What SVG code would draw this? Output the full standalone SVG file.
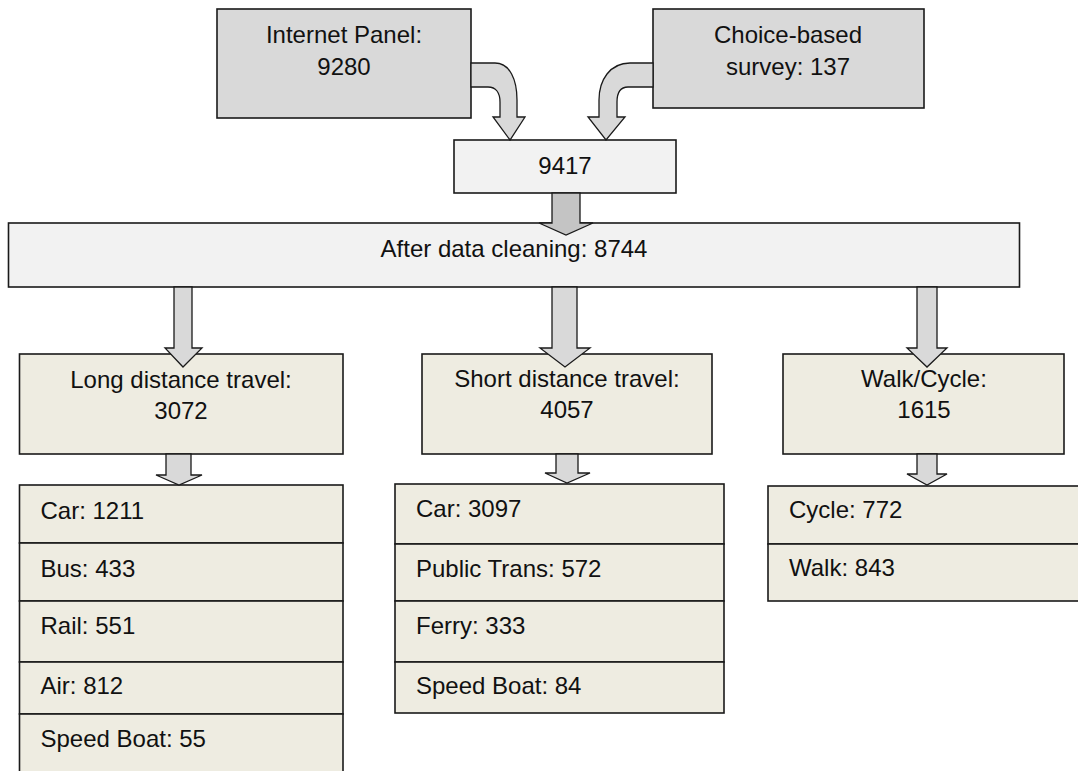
<svg xmlns="http://www.w3.org/2000/svg" width="1078" height="771" viewBox="0 0 1078 771">
<style>
text{font-family:"Liberation Sans",Arial,sans-serif;font-size:24px;fill:#111}
.c{text-anchor:middle}
.src{fill:#d9d9d9;stroke:#1a1a1a;stroke-width:1.6}
.mid{fill:#f2f2f2;stroke:#1a1a1a;stroke-width:1.6}
.lvl{fill:#eeece1;stroke:#1a1a1a;stroke-width:1.6}
.arr{fill:#d9d9d9;stroke:#1a1a1a;stroke-width:1.3;stroke-linejoin:miter}
.arr2{fill:#c4c4c4;stroke:#1a1a1a;stroke-width:1.3}
</style>
<rect width="1078" height="771" fill="#ffffff"/>
<g id="internet-panel"><rect class="src" x="217" y="9" width="254" height="109"/><text class="c" x="344" y="43">Internet Panel:</text><text class="c" x="344" y="75">9280</text></g>
<g id="choice-based"><rect class="src" x="653" y="9" width="271" height="99"/><text class="c" x="788" y="43">Choice-based</text><text class="c" x="788" y="75">survey: 137</text></g>
<g id="total"><rect class="mid" x="454" y="140" width="222" height="53"/><text class="c" x="565" y="174">9417</text></g>
<g id="cleaned"><rect class="mid" x="8.5" y="223" width="1011" height="64"/><text class="c" x="514" y="257">After data cleaning: 8744</text></g>
<g id="long"><rect class="lvl" x="19.5" y="354" width="323.5" height="100"/><text class="c" x="181" y="388">Long distance travel:</text><text class="c" x="181" y="419">3072</text></g>
<g id="short"><rect class="lvl" x="422" y="354" width="290" height="100"/><text class="c" x="567" y="387">Short distance travel:</text><text class="c" x="567" y="418">4057</text></g>
<g id="walkcycle"><rect class="lvl" x="783" y="354" width="281" height="100"/><text class="c" x="924" y="387">Walk/Cycle:</text><text class="c" x="924" y="418">1615</text></g>
<g id="long-list">
<rect class="lvl" x="19.5" y="485" width="323.5" height="58"/><text x="40.5" y="519">Car: 1211</text>
<rect class="lvl" x="19.5" y="543" width="323.5" height="58"/><text x="40.5" y="577">Bus: 433</text>
<rect class="lvl" x="19.5" y="601" width="323.5" height="61"/><text x="40.5" y="634">Rail: 551</text>
<rect class="lvl" x="19.5" y="662" width="323.5" height="52"/><text x="40.5" y="694">Air: 812</text>
<rect class="lvl" x="19.5" y="714" width="323.5" height="62"/><text x="40.5" y="747">Speed Boat: 55</text>
</g>
<g id="short-list">
<rect class="lvl" x="395" y="484" width="329" height="60"/><text x="416" y="517">Car: 3097</text>
<rect class="lvl" x="395" y="544" width="329" height="57"/><text x="416" y="577">Public Trans: 572</text>
<rect class="lvl" x="395" y="601" width="329" height="61"/><text x="416" y="634">Ferry: 333</text>
<rect class="lvl" x="395" y="662" width="329" height="51"/><text x="416" y="694">Speed Boat: 84</text>
</g>
<g id="walk-list">
<rect class="lvl" x="768" y="486" width="314" height="58"/><text x="789" y="518">Cycle: 772</text>
<rect class="lvl" x="768" y="544" width="314" height="57"/><text x="789" y="576">Walk: 843</text>
</g>
<g id="connectors">
<path class="arr" d="M471,63 L495,63 C510,63 517,80 517,100 L517,117 L525,117 L510,140 L493,117 L500,117 L500,102 C500,93 496,87 488,87 L471,87 Z"/>
<path class="arr" d="M653,63 L630,63 C610,63 599,80 599,100 L599,117 L588,117 L606,140 L625,117 L617,117 L617,102 C617,93 620,87 628,87 L653,87 Z"/>
<polygon class="arr2" points="552,193 580,193 580,223 593,223 566,235 539,223 552,223"/>
<polygon class="arr" points="174,287 192,287 192,348 202,348 183,367 165,348 174,348"/>
<polygon class="arr" points="552,287 577,287 577,348 590,348 565,367 540,348 552,348"/>
<polygon class="arr" points="917,287 937,287 937,348 947,348 927,367 907,348 917,348"/>
<polygon class="arr" points="166,454 191,454 191,475 202,475 179,485 156,475 166,475"/>
<polygon class="arr" points="556,454 578,454 578,473 590,473 567,483 545,473 556,473"/>
<polygon class="arr" points="917,454 937,454 937,474 947,474 927,485 907,474 917,474"/>
</g>
</svg>
